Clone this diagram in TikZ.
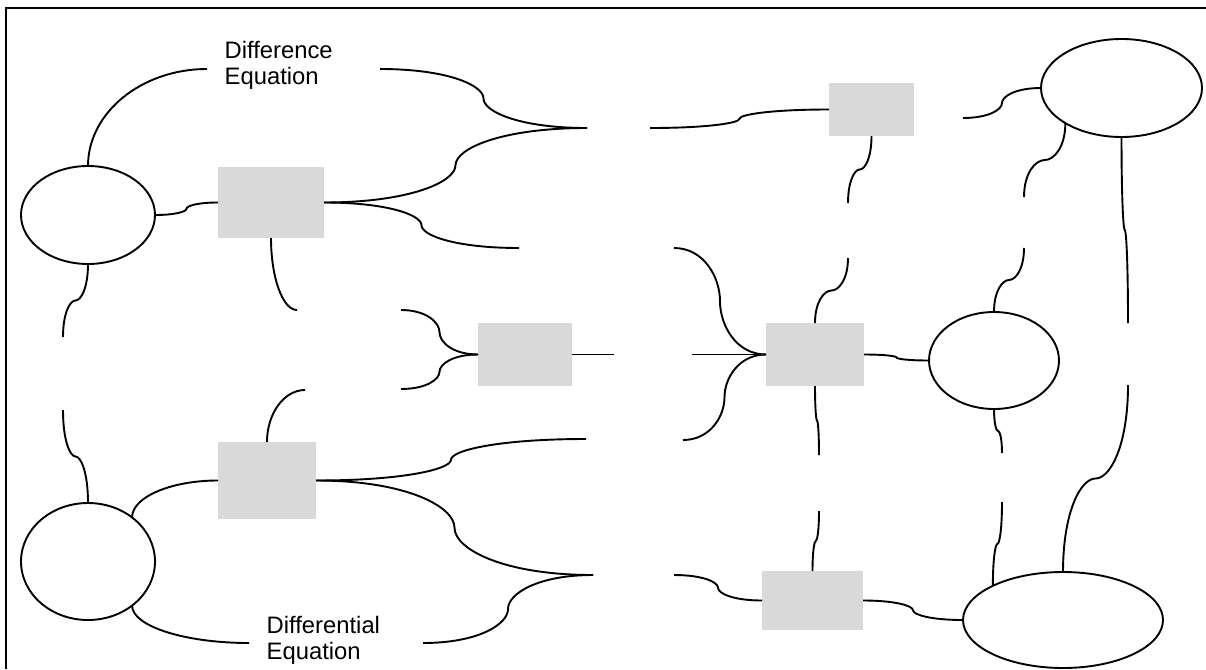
\documentclass[tikz,border=0pt]{standalone}
\usepackage{fontspec}
\setmainfont{Liberation Sans}
\usetikzlibrary{shapes.geometric,calc}
\definecolor{boxgray}{RGB}{217,217,217}
\tikzset{
  con/.style={line width=1.9pt},
  frameline/.style={line width=2.2pt},
  oval/.style={ellipse,draw,line width=1.9pt,inner sep=0pt,outer sep=0pt},
  gbox/.style={rectangle,fill=boxgray,inner sep=0pt,outer sep=0pt},
  lbl/.style={anchor=base west,inner sep=0pt,font=\fontsize{23.8}{26}\selectfont}
}
% horizontal-ended brace connector
\newcommand\conH[2]{\path ($(#1)!0.5!(#2)$) coordinate (m);
 \draw[con] (#1) .. controls ($(#1)!0.65!(#1-|m)$) and ($(m)!0.45!(m|-#1)$) .. (m)
  .. controls ($(m)!0.45!(m|-#2)$) and ($(#2)!0.65!(#2-|m)$) .. (#2);}
% vertical-ended brace connector
\newcommand\conV[2]{\path ($(#1)!0.5!(#2)$) coordinate (m);
 \draw[con] (#1) .. controls ($(#1)!0.65!(#1|-m)$) and ($(m)!0.45!(m-|#1)$) .. (m)
  .. controls ($(m)!0.45!(m-|#2)$) and ($(#2)!0.65!(#2|-m)$) .. (#2);}
% quarter connector: vertical at start, horizontal at end
\newcommand\conQ[2]{\draw[con] (#1) .. controls ($(#1)!0.55!(#1|-#2)$) and ($(#2)!0.55!(#2-|#1)$) .. (#2);}
\begin{document}
\begin{tikzpicture}[x=1pt,y=-1pt]
\useasboundingbox (0,0) rectangle (1206,669);
\draw[frameline] (1206,8) -- (6,8) -- (6,669);

% ellipses
\node[oval,minimum width=134pt,minimum height=98pt] (E1) at (88,215) {};
\node[oval,minimum width=134pt,minimum height=117pt] (E2) at (88,561.5) {};
\node[oval,minimum width=161pt,minimum height=98pt] (E3) at (1121.5,88) {};
\node[oval,minimum width=130pt,minimum height=97pt] (E4) at (994,360.5) {};
\node[oval,minimum width=200pt,minimum height=96pt] (E5) at (1063,620) {};

% grey boxes
\node[gbox,minimum width=106pt,minimum height=71pt] (B1) at (271,202.5) {};
\node[gbox,minimum width=85pt,minimum height=53pt] (B2) at (871.5,109.5) {};
\node[gbox,minimum width=94pt,minimum height=63pt] (B3) at (525,354.5) {};
\node[gbox,minimum width=98pt,minimum height=63pt] (B4) at (815,354.5) {};
\node[gbox,minimum width=98pt,minimum height=77pt] (B5) at (267,480.5) {};
\node[gbox,minimum width=101pt,minimum height=59pt] (B6) at (812.5,600.5) {};

% labels
\node[lbl] (T1) at (224.5,59) {\begin{tabular}[t]{@{}l@{}}Difference\\Equation\end{tabular}};
\node[lbl] (T2) at (266.5,633) {\begin{tabular}[t]{@{}l@{}}Differential\\Equation\end{tabular}};

% free ends of connectors
\coordinate (d1) at (207,69);
\coordinate (d2) at (380,69);
\coordinate (j1) at (587,128);
\coordinate (j2) at (519,248);
\coordinate (f1) at (297,310);
\coordinate (e1) at (63,337);
\coordinate (e2) at (63,410);
\coordinate (c1) at (401,310);
\coordinate (c2) at (401,389);
\coordinate (c3) at (614,354.5);
\coordinate (g1) at (305,390);
\coordinate (g2) at (249,643);
\coordinate (g3) at (423,643);
\coordinate (j3) at (593,575);
\coordinate (j4) at (586,439);
\coordinate (r1) at (692,354.5);
\coordinate (r2) at (674,248);
\coordinate (r3) at (683,440);
\coordinate (r4) at (674,575);
\coordinate (r5) at (650,128);
\coordinate (r6) at (848,203);
\coordinate (r7) at (848,258);
\coordinate (r8) at (963,118);
\coordinate (r9) at (1024,197);
\coordinate (r10) at (1024,248);
\coordinate (r11) at (1128,323);
\coordinate (r12) at (1128,385);
\coordinate (r13) at (819,455);
\coordinate (r14) at (819,511);
\coordinate (r15) at (1002,453);
\coordinate (r16) at (1002,502);

% connectors, left part
\conQ{E1.north}{d1}
\conH{d2}{j1}
\conH{E1.east}{B1.west}
\conH{B1.east}{j1}
\conH{B1.east}{j2}
\conQ{B1.south}{f1}
\conV{E1.south}{e1}
\conV{e2}{E2.north}
\conH{c1}{B3.west}
\conH{B3.west}{c2}
\draw[con] (B3.east) -- (c3);
\conQ{B5.north}{g1}
\conQ{E2.45}{B5.west}
\conQ{E2.315}{g2}
\conH{g3}{j3}
\conH{B5.east}{j4}
\conH{B5.east}{j3}

% connectors, right part
\draw[con] (r1) -- (B4.west);
\conH{r2}{B4.west}
\conH{B4.west}{r3}
\conH{r4}{B6.west}
\conH{r5}{B2.west}
\conV{B2.south}{r6}
\conV{r7}{B4.north}
\conH{r8}{E3.west}
\conV{E3.212}{r9}
\conV{r10}{E4.north}
\conV{E3.south}{r11}
\conV{r12}{E5.north}
\conH{B4.east}{E4.west}
\conV{B4.south}{r13}
\conV{r14}{B6.north}
\conV{E4.south}{r15}
\conV{r16}{E5.154}
\conH{B6.east}{E5.west}
\end{tikzpicture}
\end{document}
